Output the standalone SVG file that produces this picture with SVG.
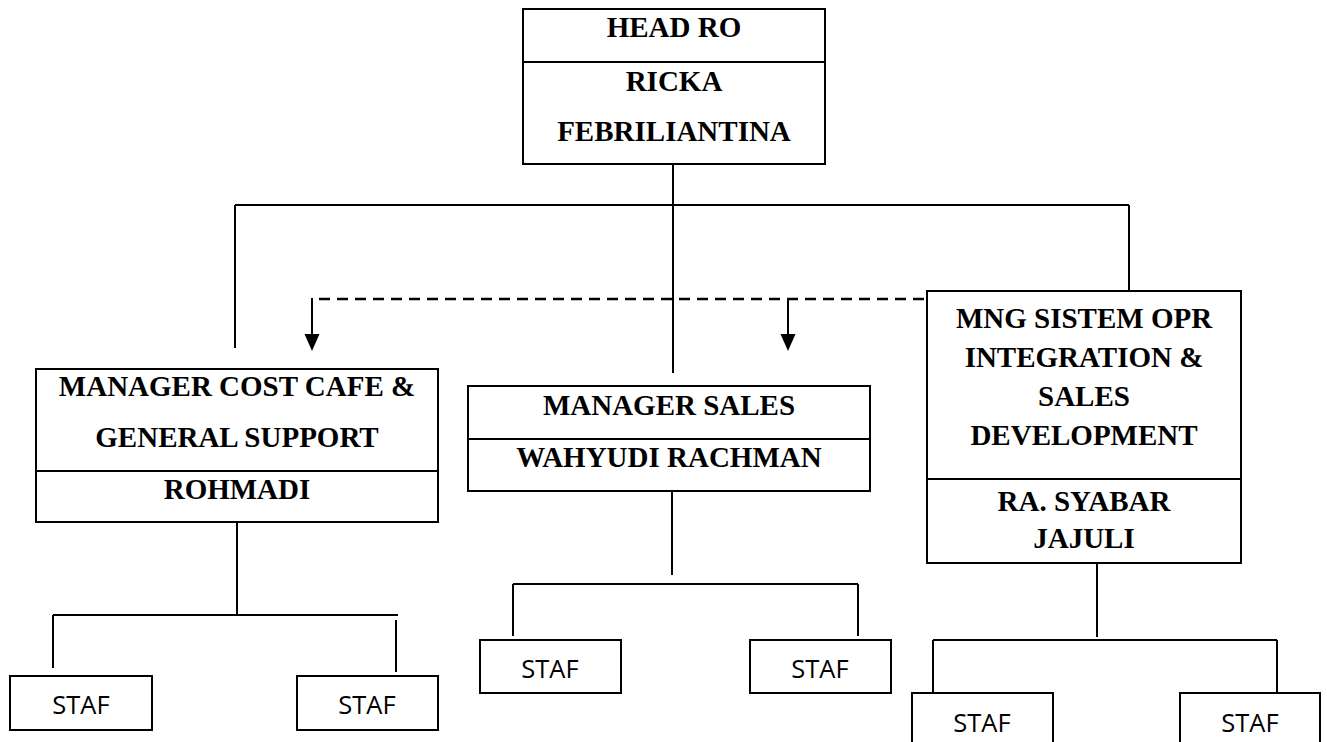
<svg xmlns="http://www.w3.org/2000/svg" width="1327" height="742" viewBox="0 0 1327 742">
<style>
.box{fill:#fff;stroke:#000;stroke-width:2}
.div{stroke:#000;stroke-width:2}
.ln{stroke:#000;stroke-width:2;fill:none}
.dash{stroke:#000;stroke-width:2.5;fill:none;stroke-dasharray:11 7}
.t{font-family:"Liberation Serif","Times New Roman",serif;font-weight:bold;font-size:29px;text-anchor:middle;fill:#000}
.s{font-family:"Open Sans","Noto Sans",sans-serif;font-size:25.5px;text-anchor:middle;fill:#000}
</style>
<rect width="1327" height="742" fill="#fff"/>
<g id="connectors">
<line class="ln" x1="673" y1="164" x2="673" y2="373"/>
<line class="ln" x1="235" y1="205" x2="1129" y2="205"/>
<line class="ln" x1="235" y1="205" x2="235" y2="348"/>
<line class="ln" x1="1129" y1="205" x2="1129" y2="291"/>
<line class="dash" x1="319" y1="299" x2="927" y2="299"/>
<line class="ln" x1="312" y1="298" x2="312" y2="336"/>
<path d="M304.5,334 L319.5,334 L312,351 Z" fill="#000"/>
<line class="ln" x1="788" y1="298" x2="788" y2="336"/>
<path d="M780.5,334 L795.5,334 L788,351 Z" fill="#000"/>
<line class="ln" x1="237" y1="522" x2="237" y2="615"/>
<line class="ln" x1="53" y1="615" x2="398" y2="615"/>
<line class="ln" x1="53" y1="615" x2="53" y2="668"/>
<line class="ln" x1="396" y1="620" x2="396" y2="672"/>
<line class="ln" x1="672" y1="491" x2="672" y2="575"/>
<line class="ln" x1="513" y1="584" x2="858" y2="584"/>
<line class="ln" x1="513" y1="584" x2="513" y2="636"/>
<line class="ln" x1="858" y1="584" x2="858" y2="636"/>
<line class="ln" x1="1097" y1="563" x2="1097" y2="637"/>
<line class="ln" x1="933" y1="640" x2="1277" y2="640"/>
<line class="ln" x1="933" y1="640" x2="933" y2="692"/>
<line class="ln" x1="1277" y1="640" x2="1277" y2="692"/>
</g>
<g id="head">
<rect class="box" x="523" y="9" width="302" height="155"/>
<line class="div" x1="523" y1="62" x2="825" y2="62"/>
<text class="t" x="674" y="37">HEAD RO</text>
<text class="t" x="674" y="91">RICKA</text>
<text class="t" x="674" y="141">FEBRILIANTINA</text>
</g>
<g id="mgr-cost">
<rect class="box" x="36" y="369" width="402" height="153"/>
<line class="div" x1="36" y1="471" x2="438" y2="471"/>
<text class="t" x="237" y="396">MANAGER COST CAFE &amp;</text>
<text class="t" x="237" y="447">GENERAL SUPPORT</text>
<text class="t" x="237" y="499">ROHMADI</text>
</g>
<g id="mgr-sales">
<rect class="box" x="468" y="386" width="402" height="105"/>
<line class="div" x1="468" y1="439" x2="870" y2="439"/>
<text class="t" x="669" y="415">MANAGER SALES</text>
<text class="t" x="669" y="467">WAHYUDI RACHMAN</text>
</g>
<g id="mgr-sistem">
<rect class="box" x="927" y="291" width="314" height="272"/>
<line class="div" x1="927" y1="479" x2="1241" y2="479"/>
<text class="t" x="1084" y="328">MNG SISTEM OPR</text>
<text class="t" x="1084" y="367">INTEGRATION &amp;</text>
<text class="t" x="1084" y="406">SALES</text>
<text class="t" x="1084" y="445">DEVELOPMENT</text>
<text class="t" x="1084" y="511">RA. SYABAR</text>
<text class="t" x="1084" y="548">JAJULI</text>
</g>
<g id="staf1"><rect class="box" x="10" y="676" width="142" height="54"/><text class="s" x="81" y="714">STAF</text></g>
<g id="staf2"><rect class="box" x="297" y="676" width="141" height="54"/><text class="s" x="367" y="714">STAF</text></g>
<g id="staf3"><rect class="box" x="480" y="640" width="141" height="53"/><text class="s" x="550" y="678">STAF</text></g>
<g id="staf4"><rect class="box" x="750" y="640" width="141" height="53"/><text class="s" x="820" y="678">STAF</text></g>
<g id="staf5"><rect class="box" x="912" y="693" width="141" height="60"/><text class="s" x="982" y="732">STAF</text></g>
<g id="staf6"><rect class="box" x="1180" y="693" width="140" height="60"/><text class="s" x="1250" y="732">STAF</text></g>
</svg>
